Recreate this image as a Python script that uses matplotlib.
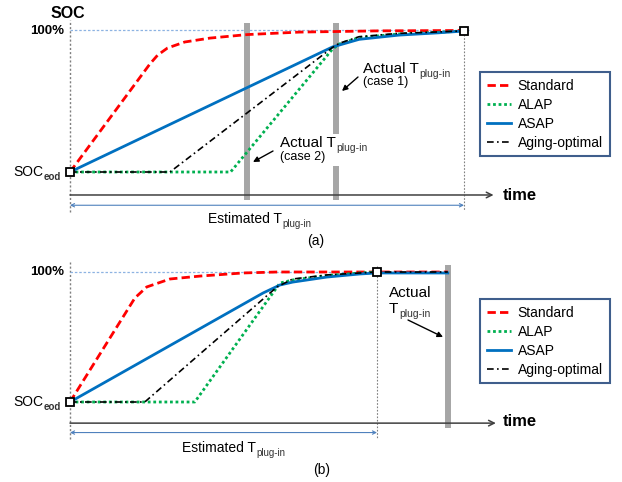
import matplotlib
matplotlib.use("Agg")
import matplotlib.pyplot as plt
from matplotlib.lines import Line2D
from matplotlib.patches import FancyArrowPatch

plt.rcParams['font.family'] = ['Liberation Sans', 'DejaVu Sans']

W, H = 622, 482
SOC_EOD = 20

# ---- panel (a): estimated plug-in time = 8 h
est_a = 8.0
plugin_a = [3.6, 5.41]          # actual plug-in, case 2 / case 1
std_a_t = [0, 1.62, 1.78, 1.98, 2.33, 2.84, 3.6, 4.66, 6.28, 8.0]
std_a_soc = [20, 81.0, 86.1, 90.1, 93.5, 95.7, 97.7, 99.1, 99.8, 100]
alap_a_t = [0, 3.26, 5.33, 5.47, 5.87, 6.68, 7.49, 8.0]
alap_a_soc = [20, 20, 89.5, 92.4, 96.0, 98.0, 99.0, 99.8]
asap_a_t = [0, 5.33, 5.47, 5.87, 6.68, 7.49, 8.0]
asap_a_soc = [20, 90.7, 91.8, 95.0, 97.4, 98.7, 99.7]
aging_a_t = [0, 2.03, 5.33, 5.47, 5.87, 6.68, 7.49, 8.0]
aging_a_soc = [20, 20, 90.4, 92.8, 96.5, 98.4, 99.2, 99.8]

# ---- panel (b): estimated plug-in time = 6.2 h, actual later
est_b = 6.2
plugin_b = [7.63]
std_b_t = [0, 1.31, 1.55, 2.02, 2.63, 3.49, 4.18, 6.2, 7.63]
std_b_soc = [20, 84, 90.8, 95.7, 97.5, 99.4, 100, 100, 100]
alap_b_t = [0, 2.52, 4.24, 4.5, 5.19, 5.86, 6.2]
alap_b_soc = [20, 20, 93.2, 95.1, 97.8, 99.4, 100]
asap_b_t = [0, 3.90, 4.24, 4.50, 5.19, 5.86, 6.2, 7.63]
asap_b_soc = [20, 87.1, 92.0, 93.8, 96.9, 98.8, 99.4, 99.4]
aging_b_t = [0, 1.51, 4.18, 4.5, 5.19, 5.86, 6.2, 7.63]
aging_b_soc = [20, 20, 90.8, 95.7, 98.2, 99.4, 100, 100]

labels = ['Standard', 'ALAP', 'ASAP', 'Aging-optimal']

styles = {
    'Standard': dict(color='#FF0000', lw=2.0, dashes=(3, 1.5)),
    'ALAP': dict(color='#00B050', lw=2.0, dashes=(1, 1)),
    'ASAP': dict(color='#0070C0', lw=2.0),
    'Aging-optimal': dict(color='black', lw=1.2, dashes=(4, 2, 1, 2)),
}

fig = plt.figure(figsize=(W / 100, H / 100), dpi=100)


def fxy(x, y):
    # pixel position (from top left) -> figure fraction
    return x / W, 1 - y / H


def make_panel(x0, x1, t_end, y_eod, y_full):
    ax = fig.add_axes([0, 0, 1, 1])
    ax.set_axis_off()
    ax.patch.set_visible(False)
    sx = (x1 - x0) / t_end
    sy = (y_eod - y_full) / (100 - SOC_EOD)
    ax.set_xlim(-x0 / sx, (W - x0) / sx)
    ax.set_ylim(SOC_EOD - (H - y_eod) / sy, 100 + y_full / sy)
    return ax


def sub_text(x, y, main, sub, size, subsize, subweight='normal'):
    t = fig.text(*fxy(x, y), main, fontsize=size, ha='left', va='center')
    fig.add_artist(matplotlib.text.Annotation(
        sub, xy=(1, 0), xycoords=t, xytext=(0.5, -2.0), textcoords='offset points',
        fontsize=subsize, fontweight=subweight, color='#333333',
        ha='left', va='bottom'))


def draw_panel(ax, t_end, plugins, curves, top_end, gaps=None):
    # guides
    ax.plot([0, 0], [-2.8, 106], color='#7F7F7F', lw=1, dashes=(1.5, 1.5))
    ax.plot([t_end, t_end], [top_end, -2.0], color='#7F7F7F', lw=0.8, dashes=(1.5, 1.5))
    ax.plot([0, t_end + 0.1], [100.2, 100.2], color='#8DB3E2', lw=0.9, dashes=(2, 1.5))
    ax.annotate('', xy=(8.6, 7), xytext=(0, 7),
                arrowprops=dict(arrowstyle='->', color='#404040', lw=1.1,
                                shrinkA=0, shrinkB=0, mutation_scale=10))
    ax.annotate('', xy=(t_end, 1.2), xytext=(0, 1.2),
                arrowprops=dict(arrowstyle='<->', color='#4F81BD', lw=0.8,
                                shrinkA=0, shrinkB=0, mutation_scale=6))
    # actual plug-in bars
    for i, p in enumerate(plugins):
        if gaps and gaps[i]:
            lo, hi = gaps[i]
            ax.plot([p, p], [hi, 104.3], color='#A6A6A6', lw=4.3, solid_capstyle='butt')
            ax.plot([p, p], [4.2, lo], color='#A6A6A6', lw=4.3, solid_capstyle='butt')
        else:
            ax.plot([p, p], [4.2, 104.3], color='#A6A6A6', lw=4.3, solid_capstyle='butt')
    for name, (t, s) in zip(labels, curves):
        ax.plot(t, s, **styles[name])
    ax.plot([0, t_end], [SOC_EOD, 100], ls='none', marker='s', ms=5.5,
            mfc='white', mec='black', mew=1.3, zorder=5)


axA = make_panel(70, 464, est_a, 172, 30.5)
draw_panel(axA, est_a, plugin_a,
           [(std_a_t, std_a_soc), (alap_a_t, alap_a_soc),
            (asap_a_t, asap_a_soc), (aging_a_t, aging_a_soc)],
           100, gaps=[None, (23.4, 41.5)])

axB = make_panel(70, 377, est_b, 402, 272)
draw_panel(axB, est_b, plugin_b,
           [(std_b_t, std_b_soc), (alap_b_t, alap_b_soc),
            (asap_b_t, asap_b_soc), (aging_b_t, aging_b_soc)],
           104)

# legends
handles = [Line2D([], [], **styles[n]) for n in labels]
for ax, ytop in [(axA, 72), (axB, 299)]:
    leg = ax.legend(handles, labels, loc='upper left',
                    bbox_to_anchor=fxy(480, ytop), bbox_transform=fig.transFigure,
                    frameon=True, fancybox=False, framealpha=1, edgecolor='#3F5E8C',
                    fontsize=10, handlelength=1.7, handletextpad=0.5,
                    labelspacing=0.35, borderpad=0.5, borderaxespad=0)
    leg.get_frame().set_linewidth(1.5)

# labels
fig.text(*fxy(68, 13), 'SOC', fontsize=11.5, fontweight='bold', ha='center', va='center')
for y in (31, 272):
    fig.text(*fxy(64, y), '100%', fontsize=9.5, fontweight='bold', ha='right', va='center')
for y in (172, 402):
    sub_text(13, y, 'SOC', 'eod', 10, 7, subweight='bold')
for y in (195, 422):
    fig.text(*fxy(503, y), 'time', fontsize=12, fontweight='bold', ha='left', va='center')
sub_text(208, 219, 'Estimated T', 'plug-in', 10, 7)
sub_text(182, 448, 'Estimated T', 'plug-in', 10, 7)
fig.text(*fxy(316, 241), '(a)', fontsize=10, ha='center', va='center')
fig.text(*fxy(322, 470), '(b)', fontsize=10, ha='center', va='center')

sub_text(363, 69, 'Actual T', 'plug-in', 11, 7.5)
fig.text(*fxy(363, 82), '(case 1)', fontsize=9, ha='left', va='center')
sub_text(280, 143, 'Actual T', 'plug-in', 11, 7.5)
fig.text(*fxy(280, 157), '(case 2)', fontsize=9, ha='left', va='center')
fig.text(*fxy(389, 293), 'Actual', fontsize=11, ha='left', va='center')
sub_text(389, 309, 'T', 'plug-in', 11, 7.5)

arrow = dict(arrowstyle='-|>', color='black', lw=1.0, shrinkA=0, shrinkB=0,
             mutation_scale=8)
for tail, head in [((358, 77), (342, 91)), ((273, 151), (253, 162)),
                   ((408, 320), (443, 337))]:
    fig.add_artist(FancyArrowPatch(fxy(*tail), fxy(*head),
                                   transform=fig.transFigure, **arrow))

fig.savefig('out.png', dpi=100)
